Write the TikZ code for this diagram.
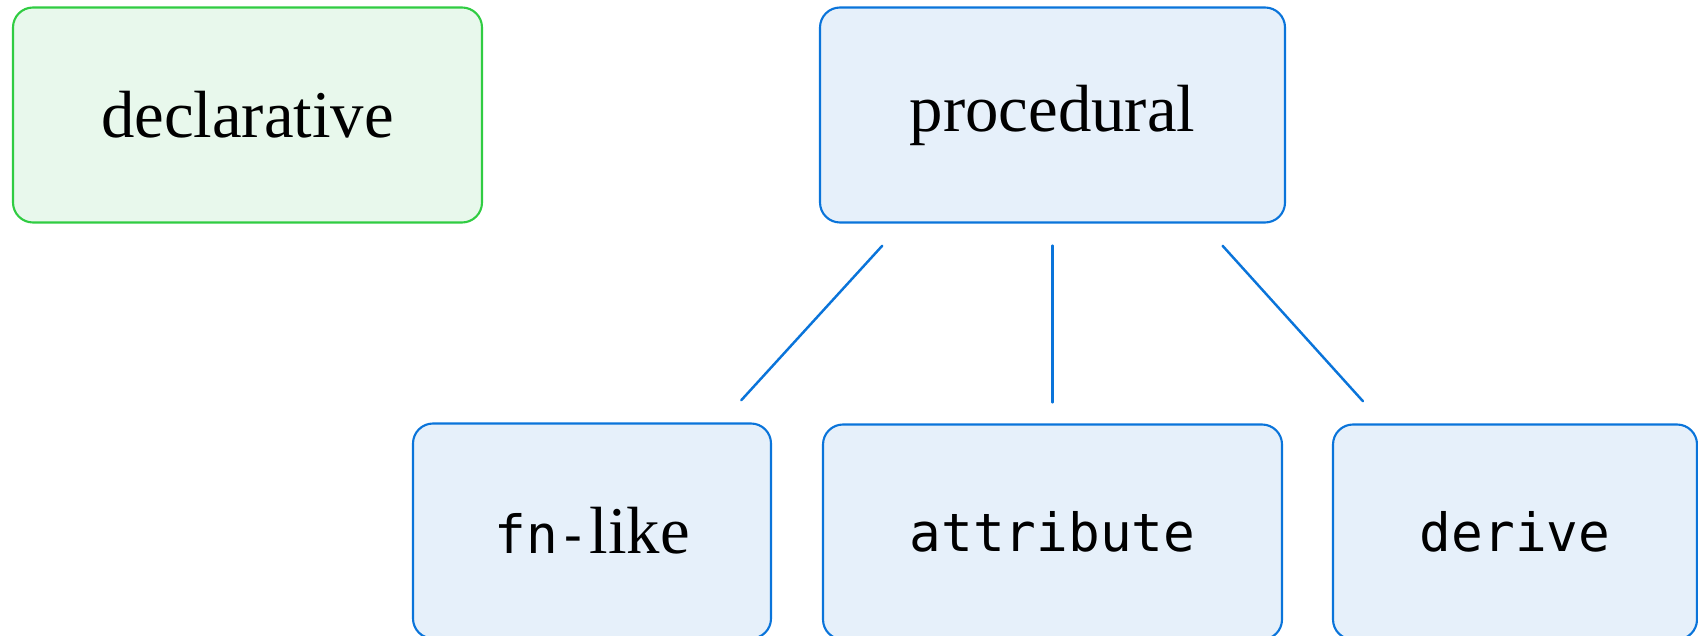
\documentclass[tikz,border=0pt]{standalone}
\usepackage{fontspec}
\setmainfont{Liberation Serif}
\setmonofont{DejaVu Sans Mono}
\usepackage{xcolor}
\usepackage{tikz}
\usetikzlibrary{positioning,calc}

\definecolor{declline}{RGB}{48,204,66}
\definecolor{declfill}{RGB}{232,248,236}
\definecolor{procline}{RGB}{10,116,218}
\definecolor{procfill}{RGB}{230,240,250}

\begin{document}
\begin{tikzpicture}[
    block/.style={rectangle, draw, rounded corners=0.2cm, line width=0.6pt, minimum height=2.15cm, align=center, inner sep=3pt, font=\fontsize{19}{23}\selectfont},
    decl/.style={block, fill=declfill, draw=declline},
    proc/.style={block, fill=procfill, draw=procline},
    link/.style={draw=procline, line width=0.7pt, line cap=round}
]

\useasboundingbox (0,0) rectangle (16.98,-6.36);

% ── Top row ──
\node[decl, minimum width=4.69cm] (declarative) at (2.475,-1.15) {declarative};
\node[proc, minimum width=4.65cm] (procedural) at (10.525,-1.15) {procedural};

% ── Bottom row ──
\node[proc, minimum width=3.58cm] (fnlike) at (5.92,-5.31) {{\fontsize{15}{18}\selectfont\ttfamily fn-}like};
\node[proc, minimum width=4.59cm] (attribute) at (10.525,-5.32) {\texttt{\fontsize{15}{18}\selectfont attribute}};
\node[proc, minimum width=3.64cm] (derive) at (15.15,-5.32) {\texttt{\fontsize{15}{18}\selectfont derive}};

% ── Links ──
\draw[link, shorten <=0.3cm, shorten >=0.3cm] ([xshift=-1.5cm]procedural.south) -- ([xshift=1.29cm]fnlike.north);
\draw[link, shorten <=0.22cm, shorten >=0.21cm] (procedural.south) -- (attribute.north);
\draw[link, shorten <=0.3cm, shorten >=0.3cm] ([xshift=1.5cm]procedural.south) -- ([xshift=-1.32cm]derive.north);

\end{tikzpicture}
\end{document}
